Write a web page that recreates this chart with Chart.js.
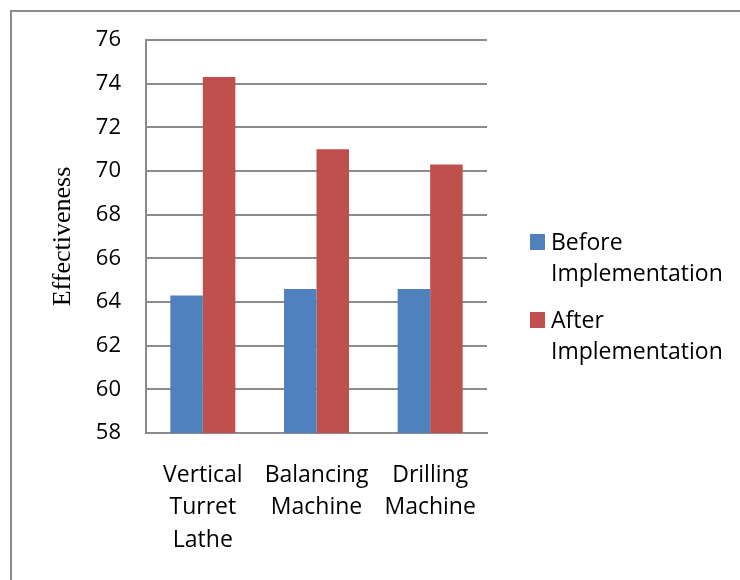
<!DOCTYPE html>
<html>
<head>
<meta charset="utf-8">
<script src="https://cdn.jsdelivr.net/npm/chart.js@4/dist/chart.umd.min.js"></script>
<style>
  html, body { margin: 0; padding: 0; background: #fff; }
  #wrap { width: 740px; height: 580px; position: relative; }
</style>
</head>
<body>
<div id="wrap"><canvas id="c" width="740" height="580"></canvas></div>
<script>
// Machines compared (multi-line axis labels)
const categories = [
  ['Vertical', 'Turret', 'Lathe'],
  ['Balancing', 'Machine'],
  ['Drilling', 'Machine']
];
const seriesNames = ['Before Implementation', 'After Implementation'];
const beforeValues = [64.3, 64.6, 64.6];
const afterValues = [74.3, 71.0, 70.3];
const yMin = 58, yMax = 76, yStep = 2;
const axisTitle = 'Effectiveness';

const seriesColors = ['#4F81BD', '#C0504D'];
const lineGray = '#8c8c8c';
const sansFont = "'Open Sans', 'Noto Sans', sans-serif";

// Frame lines along the left and top edges
const framePlugin = {
  id: 'frame',
  beforeDraw(chart) {
    const ctx = chart.ctx;
    ctx.save();
    ctx.fillStyle = '#fff';
    ctx.fillRect(0, 0, chart.width, chart.height);
    ctx.strokeStyle = lineGray;
    ctx.lineWidth = 2;
    ctx.beginPath();
    ctx.moveTo(11, chart.height);
    ctx.lineTo(11, 11);
    ctx.lineTo(chart.width, 11);
    ctx.stroke();
    ctx.restore();
  }
};

// Legend on the right, each series name wrapped word by word
const sideLegend = {
  id: 'sideLegend',
  afterDraw(chart) {
    const ctx = chart.ctx;
    ctx.save();
    ctx.font = '23px ' + sansFont;
    ctx.textBaseline = 'middle';
    ctx.textAlign = 'left';
    chart.data.datasets.forEach((ds, i) => {
      const y0 = 242 + i * 78;
      ctx.fillStyle = ds.backgroundColor;
      ctx.fillRect(530, y0 - 8, 15, 16);
      ctx.fillStyle = '#000';
      ds.label.split(' ').forEach((word, j) => {
        ctx.fillText(word, 551, y0 + 1 + j * 31);
      });
    });
    ctx.restore();
  }
};

new Chart(document.getElementById('c'), {
  type: 'bar',
  data: {
    labels: categories,
    datasets: [
      { label: seriesNames[0], data: beforeValues, backgroundColor: seriesColors[0],
        borderWidth: 0, barPercentage: 1.0, categoryPercentage: 0.572 },
      { label: seriesNames[1], data: afterValues, backgroundColor: seriesColors[1],
        borderWidth: 0, barPercentage: 1.0, categoryPercentage: 0.572 }
    ]
  },
  options: {
    responsive: false,
    animation: false,
    maintainAspectRatio: false,
    layout: { padding: { top: 40, right: 253, left: 0, bottom: 0 } },
    plugins: {
      legend: { display: false },
      tooltip: { enabled: false }
    },
    scales: {
      x: {
        grid: { display: false, drawTicks: false },
        border: { color: lineGray, width: 2 },
        ticks: {
          color: '#000',
          font: { family: sansFont, size: 23, lineHeight: 1.41 },
          padding: 26,
          maxRotation: 0,
          autoSkip: false
        },
        afterFit(scale) { scale.height = 147; }
      },
      y: {
        min: yMin,
        max: yMax,
        ticks: {
          stepSize: yStep,
          color: '#000',
          font: { family: sansFont, size: 22 },
          padding: 25
        },
        grid: { color: lineGray, lineWidth: 2, drawTicks: false },
        border: { color: lineGray, width: 2 },
        title: {
          display: true,
          text: axisTitle,
          color: '#000',
          font: { family: "'Liberation Serif', 'Times New Roman', serif", size: 26, lineHeight: 1.2 },
          padding: { top: 48, bottom: 0 }
        },
        afterFit(scale) { scale.width = 146; }
      }
    }
  },
  plugins: [framePlugin, sideLegend]
});
</script>
</body>
</html>
